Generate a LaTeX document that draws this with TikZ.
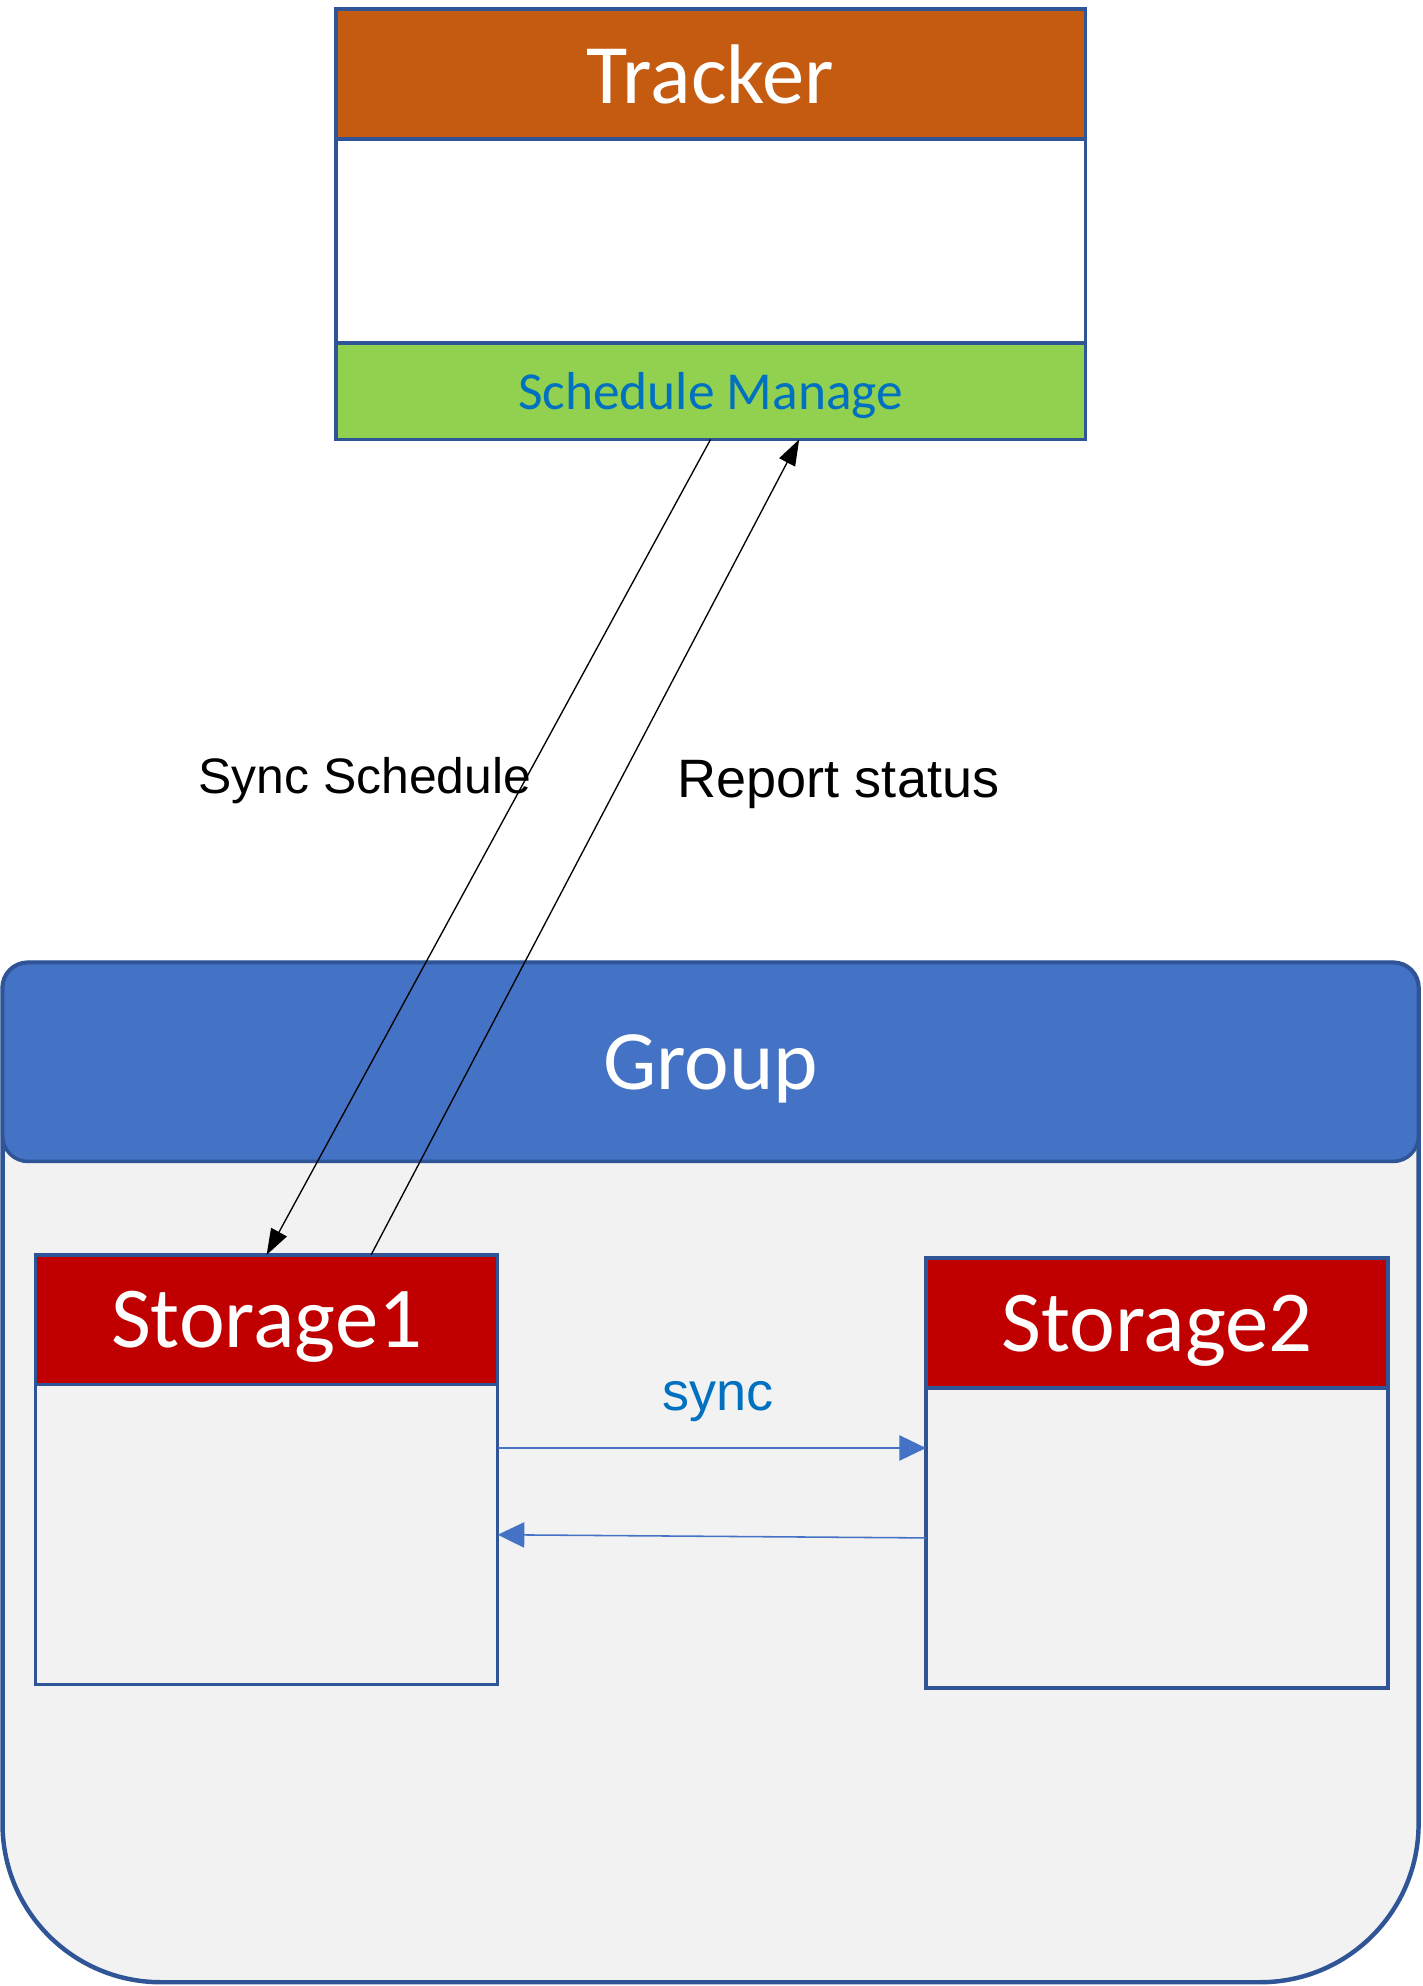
\documentclass[tikz,border=0pt]{standalone}
\usepackage{fontspec}
\setmainfont{Carlito}
\newfontfamily\labelfont{Liberation Sans}
\usetikzlibrary{positioning,arrows.meta}
\definecolor{borderblue}{HTML}{2F5597}
\definecolor{trackorange}{HTML}{C55A11}
\definecolor{schedgreen}{HTML}{92D050}
\definecolor{textblue}{HTML}{0070C0}
\definecolor{groupblue}{HTML}{4472C4}
\definecolor{groupgray}{HTML}{F2F2F2}
\definecolor{storered}{HTML}{C00000}

\begin{document}
\begin{tikzpicture}[x=0.02cm,y=-0.02cm]
    \tikzstyle{box}=[rectangle,draw=borderblue,inner sep=0pt,outer sep=0pt,text depth=0pt]
    \tikzstyle{tracker head}=[box,line width=1.7pt,fill=trackorange,text=white,minimum width=11.84cm,minimum height=2.06cm,font=\fontsize{38}{40}\selectfont]
    \tikzstyle{tracker body}=[box,line width=1.7pt,fill=white,minimum width=11.84cm,minimum height=3.22cm]
    \tikzstyle{sched}=[box,line width=1.7pt,fill=schedgreen,text=textblue,minimum width=11.84cm,minimum height=1.52cm,font=\fontsize{24}{26}\selectfont]
    \tikzstyle{group head}=[box,line width=1.6pt,fill=groupblue,text=white,rounded corners=0.4cm,minimum width=22.36cm,minimum height=3.14cm,font=\fontsize{38}{40}\selectfont]
    \tikzstyle{storage head}=[box,line width=1.5pt,fill=storered,text=white,minimum width=7.3cm,minimum height=2.05cm,font=\fontsize{39}{41}\selectfont]
    \tikzstyle{storage body}=[box,line width=1.5pt,fill=groupgray,minimum width=7.3cm,minimum height=4.74cm]
    \tikzstyle{link}=[draw=black,line width=0.6pt,-{Triangle[length=0.41cm,width=0.28cm]}]
    \tikzstyle{sync arrow}=[draw=groupblue,line width=0.7pt,-{Triangle[length=0.42cm,width=0.4cm]}]
    \tikzstyle{annot}=[inner sep=0pt,text depth=0pt,font=\labelfont\fontsize{22.4}{24}\selectfont]

    \useasboundingbox (0,0) rectangle (1123,1568);

    % Draw the group
    \draw[fill=groupgray,draw=borderblue,line width=2pt] (2,1100) [rounded corners=0.4cm] -- (2,760) -- (1120,760) -- (1120,1100)
        [rounded corners=2.5cm] -- (1120,1565) -- (2,1565) -- cycle;
    \node[group head] (group) at (561,838.5) {Group};

    % Draw the tracker
    \node[tracker head] (tracker) at (561,58.5) {Tracker};
    \node[tracker body,below=0pt of tracker] (tbody) {};
    \node[sched,below=0pt of tbody] (sched) {Schedule Manage};

    % Draw the storage nodes
    \foreach \name / \x / \y in {1/210.5/1042,2/913.5/1044.5} {
        \node[storage head] (S-\name) at (\x,\y) {Storage\name};
        \node[storage body,below=0pt of S-\name] (SB-\name) {};
    }

    % Connect the tracker with the first storage
    \draw[link] (sched.south) -- (S-1.north);
    \draw[link] ([xshift=1.65cm]S-1.north) -- ([xshift=1.4cm]sched.south);
    \node[annot] (schedlabel) at (288,612) {Sync Schedule};
    \node[annot,font=\labelfont\fontsize{24.3}{26}\selectfont] (statuslabel) at (662,615) {Report status};

    % Sync between the storages
    \coordinate (s1) at ([yshift=1.37cm]SB-1.east);
    \draw[sync arrow] (s1) -- (s1 -| SB-2.west);
    \draw[sync arrow] (SB-2.west) -- (SB-1.east);
    \node[annot,text=textblue,font=\labelfont\fontsize{24.3}{26}\selectfont] (synclabel) at (567,1102) {sync};
\end{tikzpicture}
\end{document}
